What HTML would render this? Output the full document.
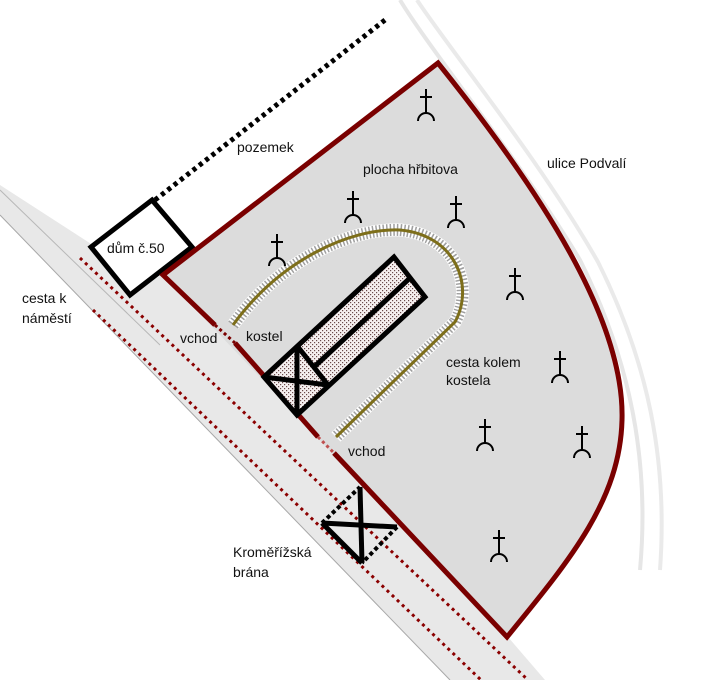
<!DOCTYPE html>
<html><head><meta charset="utf-8"><style>
html,body{margin:0;padding:0;background:#fff;}
svg{display:block;}
text{font-family:"Liberation Sans",sans-serif;font-size:14px;fill:#111;}
</style></head><body>
<svg width="728" height="680" viewBox="0 0 728 680" xmlns="http://www.w3.org/2000/svg">
<defs>
<pattern id="st" width="4" height="4" patternUnits="userSpaceOnUse">
<rect width="4" height="4" fill="#f6f0f0"/><rect x="0" y="0" width="1.2" height="1.2" fill="#6a4a4a"/><rect x="2" y="2" width="1.2" height="1.2" fill="#6a4a4a"/>
</pattern>
</defs>
<!-- right street faint edges -->
<path d="M400,0 C430,50 520,160 580,260 C630,360 650,460 640,570" fill="none" stroke="#e6e6e6" stroke-width="4"/>
<path d="M417,0 C450,50 540,160 598,262 C648,362 668,460 660,570" fill="none" stroke="#eaeaea" stroke-width="4"/>
<!-- gray area / road -->
<polygon points="0,185 150,282 163,274 508,637 545,680 450,680 0,215" fill="#e8e8e8"/>
<line x1="0" y1="215" x2="450" y2="680" stroke="#a8a8a8" stroke-width="1"/>
<line x1="0" y1="190" x2="160" y2="345" stroke="#b8b8b8" stroke-width="1"/>
<!-- cemetery -->
<path d="M163,275 L438,63 C540,190 625,320 622,420 C620,500 570,560 507,637 Z" fill="#dcdcdc"/>
<!-- red dotted lines -->
<line x1="80" y1="258" x2="528" y2="680" stroke="#8b0000" stroke-width="3" stroke-dasharray="3,4"/>
<line x1="93" y1="310" x2="481" y2="680" stroke="#8b0000" stroke-width="3" stroke-dasharray="3,4"/>
<!-- black dotted line -->
<line x1="385" y1="20" x2="155" y2="200" stroke="#000" stroke-width="5" stroke-dasharray="4,4"/>
<!-- house -->
<polygon points="152,200 192,247 130,295 91,247" fill="#fff" stroke="#000" stroke-width="5"/>
<text x="107" y="253">dům č.50</text>
<!-- cemetery border -->
<path d="M215,325 L163,275 L438,63 C540,190 625,320 622,420 C620,500 570,560 507,637 L334,453" fill="none" stroke="#7a0000" stroke-width="5"/>
<line x1="235" y1="343" x2="318" y2="437" stroke="#7a0000" stroke-width="5"/>
<line x1="215" y1="325" x2="235" y2="343" stroke="#7a0000" stroke-width="3" stroke-dasharray="3,3"/>
<line x1="318" y1="437" x2="334" y2="453" stroke="#c05050" stroke-width="3" stroke-dasharray="3,3"/>
<!-- path around church -->
<path d="M233,325 C280,260 350,228 400,230 C455,235 475,285 455,322 L336,437" fill="none" stroke="#fff" stroke-width="13"/>
<path d="M233,325 C280,260 350,228 400,230 C455,235 475,285 455,322 L336,437" fill="none" stroke="#888" stroke-width="12" stroke-dasharray="1.5,2" opacity="0.8"/>
<path d="M233,325 C280,260 350,228 400,230 C455,235 475,285 455,322 L336,437" fill="none" stroke="#7d6e1a" stroke-width="3"/>
<!-- church -->
<polygon points="394,257 425,297 297,415 264,377" fill="url(#st)" stroke="#000" stroke-width="5" stroke-linejoin="miter"/>
<line x1="410" y1="278" x2="314" y2="367" stroke="#000" stroke-width="5"/>
<line x1="298" y1="347" x2="328" y2="385" stroke="#000" stroke-width="5"/>
<line x1="264" y1="377" x2="328" y2="385" stroke="#000" stroke-width="5"/>
<line x1="297" y1="347" x2="297" y2="415" stroke="#000" stroke-width="5"/>
<!-- gate -->
<line x1="322" y1="523" x2="362" y2="563" stroke="#000" stroke-width="5"/>
<line x1="322" y1="523" x2="360" y2="487" stroke="#000" stroke-width="4" stroke-dasharray="4,3"/>
<line x1="397" y1="527" x2="362" y2="563" stroke="#000" stroke-width="4" stroke-dasharray="4,3"/>
<line x1="360" y1="487" x2="362" y2="563" stroke="#000" stroke-width="5"/>
<line x1="322" y1="523" x2="397" y2="527" stroke="#000" stroke-width="5"/>
<!-- graves -->
<g fill="none" stroke="#000" stroke-width="2">
<g transform="translate(426,97)"><path d="M0,-8 V16 M-6,0 H6 M-8,24 A8,8 0 0 1 8,24"/></g>
<g transform="translate(353,199)"><path d="M0,-8 V16 M-6,0 H6 M-8,24 A8,8 0 0 1 8,24"/></g>
<g transform="translate(456,204)"><path d="M0,-8 V16 M-6,0 H6 M-8,24 A8,8 0 0 1 8,24"/></g>
<g transform="translate(277,242)"><path d="M0,-8 V16 M-6,0 H6 M-8,24 A8,8 0 0 1 8,24"/></g>
<g transform="translate(515,276)"><path d="M0,-8 V16 M-6,0 H6 M-8,24 A8,8 0 0 1 8,24"/></g>
<g transform="translate(560,359)"><path d="M0,-8 V16 M-6,0 H6 M-8,24 A8,8 0 0 1 8,24"/></g>
<g transform="translate(485,427)"><path d="M0,-8 V16 M-6,0 H6 M-8,24 A8,8 0 0 1 8,24"/></g>
<g transform="translate(582,434)"><path d="M0,-8 V16 M-6,0 H6 M-8,24 A8,8 0 0 1 8,24"/></g>
<g transform="translate(499,538)"><path d="M0,-8 V16 M-6,0 H6 M-8,24 A8,8 0 0 1 8,24"/></g>
</g>
<!-- labels -->
<text x="237" y="152">pozemek</text>
<text x="363" y="174">plocha hřbitova</text>
<text x="547" y="168">ulice Podvalí</text>
<text x="22" y="303">cesta k</text>
<text x="22" y="323">náměstí</text>
<text x="180" y="343">vchod</text>
<text x="246" y="341">kostel</text>
<text x="446" y="367">cesta kolem</text>
<text x="446" y="385">kostela</text>
<text x="348" y="456">vchod</text>
<text x="233" y="557">Kroměřížská</text>
<text x="233" y="577">brána</text>
</svg>
</body></html>
